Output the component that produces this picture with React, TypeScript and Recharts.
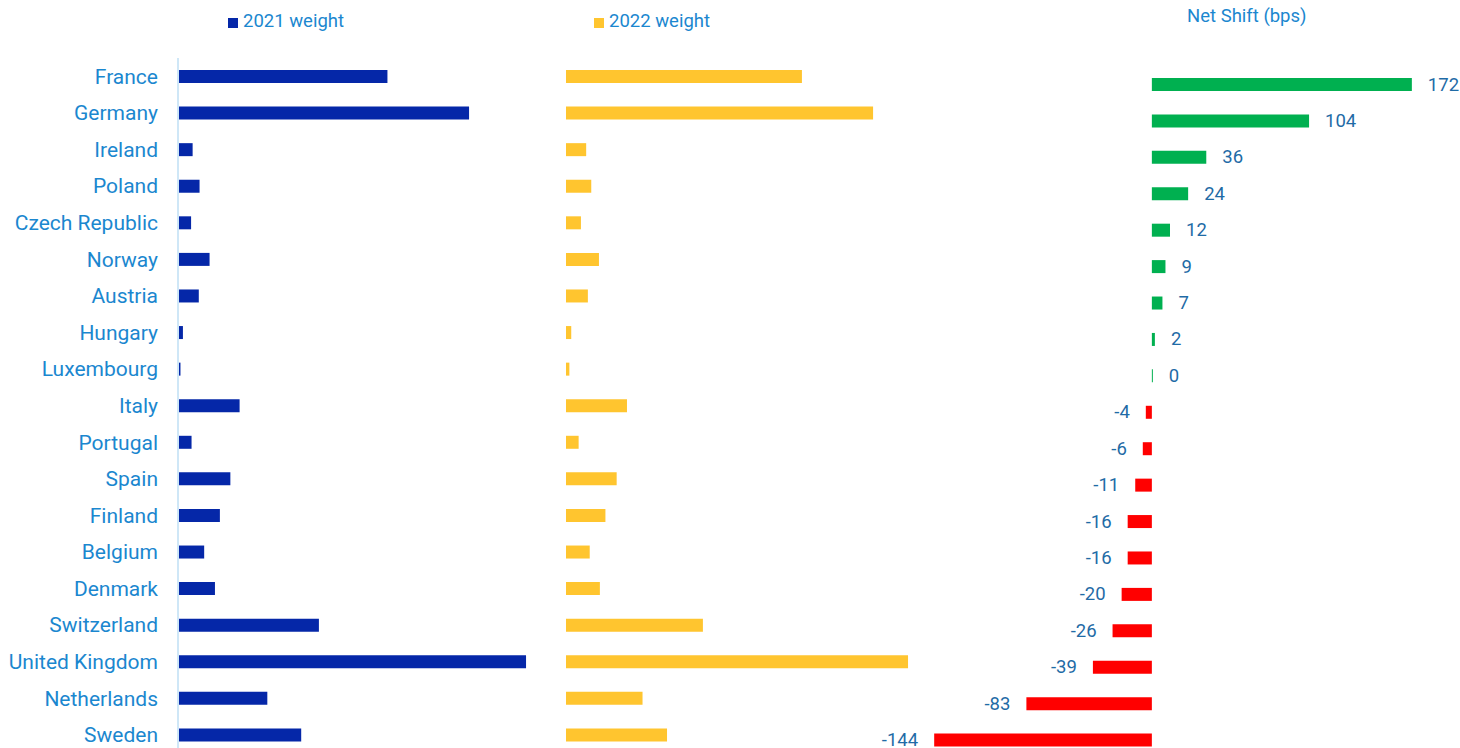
import { BarChart, Bar, XAxis, YAxis, Cell, LabelList } from "recharts";

const countries = [
  "France", "Germany", "Ireland", "Poland", "Czech Republic", "Norway", "Austria",
  "Hungary", "Luxembourg", "Italy", "Portugal", "Spain", "Finland", "Belgium",
  "Denmark", "Switzerland", "United Kingdom", "Netherlands", "Sweden",
];
const weight2021 = [13.6, 18.9, 0.95, 1.4, 0.85, 2.05, 1.35, 0.32, 0.16, 4.0, 0.88, 3.4, 2.72, 1.7, 2.4, 9.15, 22.6, 5.8, 8.0];
const weight2022 = [15.32, 19.94, 1.31, 1.64, 0.97, 2.14, 1.42, 0.34, 0.22, 3.96, 0.82, 3.29, 2.56, 1.54, 2.2, 8.89, 22.21, 4.97, 6.56];
const netShift = [172, 104, 36, 24, 12, 9, 7, 2, 0, -4, -6, -11, -16, -16, -20, -26, -39, -83, -144];

const data = countries.map((country, i) => ({
  country,
  w2021: weight2021[i],
  w2022: weight2022[i],
  shift: netShift[i],
}));

const FONT = "Roboto, sans-serif";
const LABEL_BLUE = "#1b87cf";
const VALUE_BLUE = "#1f6ba6";
const NAVY = "#0527a8";
const YELLOW = "#ffc52f";
const GREEN = "#00b050";
const RED = "#ff0000";

// legend / title chips sit above the panels
function LegendChip({ left, top, color, text }: { left: number; top: number; color: string | null; text: string }) {
  return (
    <div
      style={{
        position: "absolute",
        left,
        top,
        display: "flex",
        alignItems: "center",
        fontFamily: FONT,
        fontSize: 18.5,
        lineHeight: "22px",
        color: LABEL_BLUE,
        whiteSpace: "nowrap",
      }}
    >
      {color && <span style={{ display: "inline-block", width: 10, height: 10, background: color, marginRight: 5, marginTop: 4 }} />}
      <span>{text}</span>
    </div>
  );
}

function ShiftLabel(props: any) {
  const { x, y, width, height, value } = props;
  const left = Math.min(x, x + width);
  const right = Math.max(x, x + width);
  const cy = y + height / 2;
  const pos = value >= 0;
  return (
    <text
      x={pos ? right + 16 : left - 16}
      y={cy}
      textAnchor={pos ? "start" : "end"}
      dominantBaseline="central"
      fill={VALUE_BLUE}
      fontSize={18.5}
      fontFamily={FONT}
    >
      {value}
    </text>
  );
}

export default function App() {
  return (
    <div style={{ position: "absolute", left: 0, top: 0, width: 1460, height: 748, overflow: "hidden", background: "#fff" }}>
      <LegendChip left={228} top={10} color={NAVY} text="2021 weight" />
      <LegendChip left={594} top={10} color={YELLOW} text="2022 weight" />
      <LegendChip left={1187} top={5} color={null} text="Net Shift (bps)" />

      <div style={{ position: "absolute", left: 0, top: 0 }}>
        <BarChart width={563} height={753} data={data} layout="vertical" margin={{ top: 58, right: 0, bottom: 0, left: 0 }}>
          <XAxis type="number" domain={[0, 25]} hide />
          <YAxis
            type="category"
            dataKey="country"
            width={178}
            interval={0}
            tickLine={false}
            tickSize={0}
            tickMargin={20}
            axisLine={{ stroke: "#cfe7f7", strokeWidth: 2 }}
            tick={{ fill: LABEL_BLUE, fontSize: 21, fontFamily: FONT }}
          />
          <Bar dataKey="w2021" fill={NAVY} barSize={13} isAnimationActive={false} />
        </BarChart>
      </div>

      <div style={{ position: "absolute", left: 566, top: 0 }}>
        <BarChart width={385} height={753} data={data} layout="vertical" margin={{ top: 58, right: 0, bottom: 0, left: 0 }}>
          <XAxis type="number" domain={[0, 25]} hide />
          <YAxis type="category" dataKey="country" hide />
          <Bar dataKey="w2022" fill={YELLOW} barSize={13} isAnimationActive={false} />
        </BarChart>
      </div>

      <div style={{ position: "absolute", left: 850, top: 0 }}>
        <BarChart width={610} height={758} data={data} layout="vertical" margin={{ top: 66, right: 30, bottom: 0, left: 60 }}>
          <XAxis type="number" domain={[-160, 184]} hide />
          <YAxis type="category" dataKey="country" hide />
          <Bar dataKey="shift" barSize={13} minPointSize={1} isAnimationActive={false}>
            {netShift.map((v, i) => (
              <Cell key={i} fill={v >= 0 ? GREEN : RED} />
            ))}
            <LabelList dataKey="shift" content={ShiftLabel} />
          </Bar>
        </BarChart>
      </div>
    </div>
  );
}
